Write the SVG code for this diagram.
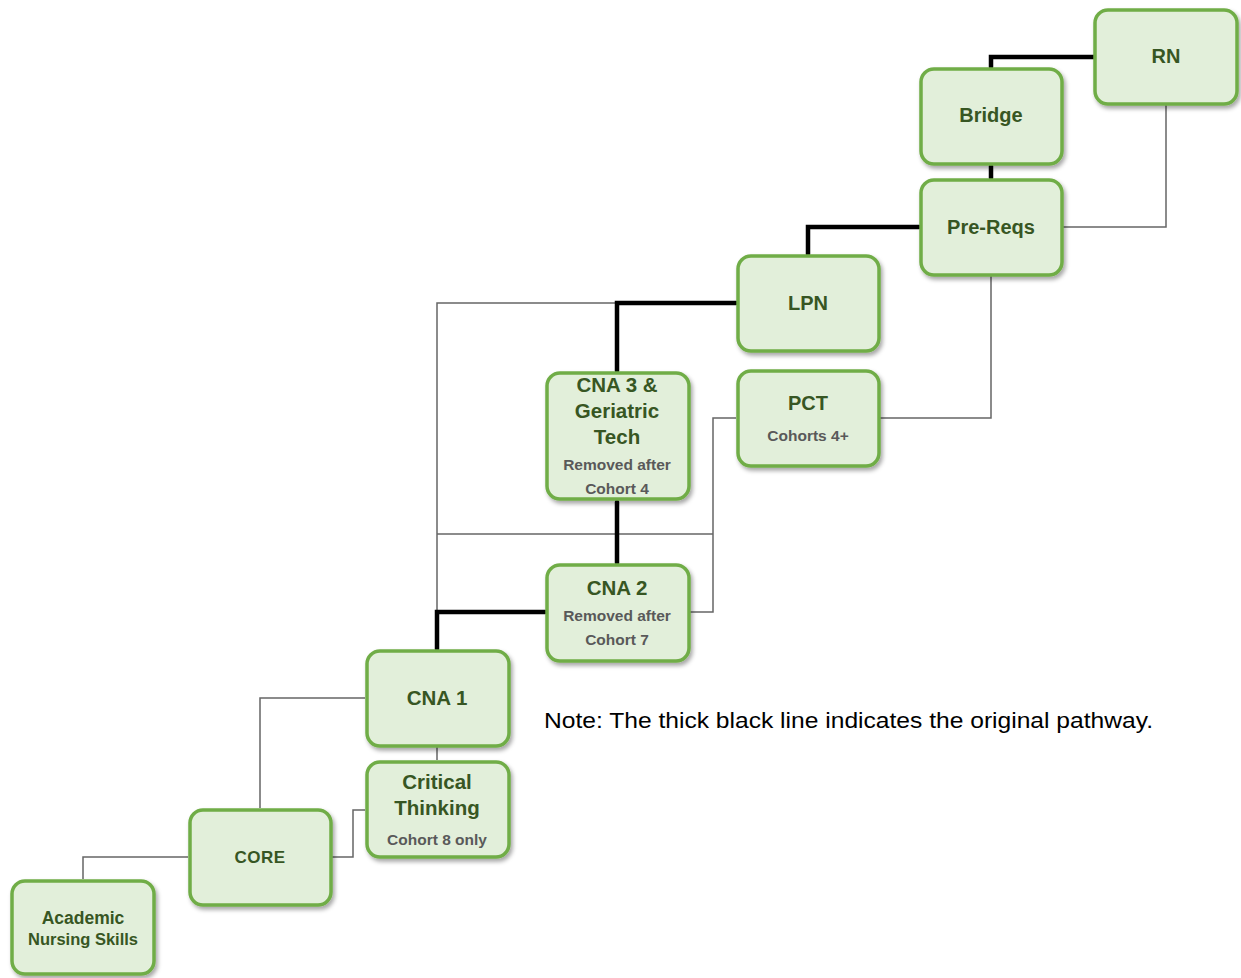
<svg xmlns="http://www.w3.org/2000/svg" width="1241" height="978" viewBox="0 0 1241 978">
<defs>
<filter id="sh" x="-10%" y="-10%" width="130%" height="130%">
<feDropShadow dx="2" dy="3" stdDeviation="2" flood-color="#000" flood-opacity="0.35"/>
</filter>
</defs>
<style>
.box{fill:#e2efda;stroke:#70ad47;stroke-width:3.5;filter:url(#sh)}
.t{font-family:"Liberation Sans",Arial,sans-serif;font-weight:bold;fill:#375623;text-anchor:middle}
.s{font-family:"Liberation Sans",Arial,sans-serif;font-weight:bold;fill:#595959;text-anchor:middle;font-size:15.5px}
.thick{fill:none;stroke:#000;stroke-width:4.5;stroke-linecap:round;stroke-linejoin:miter}
.thin{fill:none;stroke:#666;stroke-width:1.5}
.note{font-family:"Liberation Sans",Arial,sans-serif;font-size:22px;fill:#000}
</style>
<rect width="1241" height="978" fill="#fff"/>
<g id="connectors">
<path class="thin" d="M1166,105 V227 H1063"/>
<path class="thin" d="M991,276 V418 H880"/>
<path class="thin" d="M736,418 H713 V612 H690"/>
<path class="thin" d="M437,649 V303 H617"/>
<path class="thin" d="M437,534 H713"/>
<path class="thin" d="M437,747 V760"/>
<path class="thin" d="M365,698 H260 V808"/>
<path class="thin" d="M332,857 H353 V810 H365"/>
<path class="thin" d="M188,857 H83 V879"/>
<path class="thick" d="M1094,57 H991 V67"/>
<path class="thick" d="M991,166 V178"/>
<path class="thick" d="M919,227 H808 V254"/>
<path class="thick" d="M736,303 H617 V371"/>
<path class="thick" d="M617,502 V563"/>
<path class="thick" d="M545,612 H437 V649"/>
</g>
<g id="rn"><rect class="box" x="1095" y="10" width="142" height="94" rx="13"/><text class="t" x="1166" y="63" font-size="20">RN</text></g>
<g id="bridge"><rect class="box" x="921" y="69" width="141" height="95" rx="13"/><text class="t" x="991" y="122" font-size="20">Bridge</text></g>
<g id="prereqs"><rect class="box" x="921" y="180" width="141" height="95" rx="13"/><text class="t" x="991" y="234" font-size="20">Pre-Reqs</text></g>
<g id="lpn"><rect class="box" x="738" y="256" width="141" height="95" rx="13"/><text class="t" x="808" y="310" font-size="20">LPN</text></g>
<g id="pct"><rect class="box" x="738" y="371" width="141" height="95" rx="13"/><text class="t" x="808" y="410" font-size="20">PCT</text><text class="s" x="808" y="441">Cohorts 4+</text></g>
<g id="cna3"><rect class="box" x="547" y="373" width="142" height="126" rx="13"/><text class="t" x="617" y="392" font-size="20.5">CNA 3 &amp;</text><text class="t" x="617" y="418" font-size="20.5">Geriatric</text><text class="t" x="617" y="444" font-size="20.5">Tech</text><text class="s" x="617" y="470">Removed after</text><text class="s" x="617" y="494">Cohort 4</text></g>
<g id="cna2"><rect class="box" x="547" y="565" width="142" height="96" rx="13"/><text class="t" x="617" y="595" font-size="20.5">CNA 2</text><text class="s" x="617" y="621">Removed after</text><text class="s" x="617" y="645">Cohort 7</text></g>
<g id="cna1"><rect class="box" x="367" y="651" width="142" height="95" rx="13"/><text class="t" x="437" y="705" font-size="20.5">CNA 1</text></g>
<g id="critical"><rect class="box" x="367" y="762" width="142" height="95" rx="13"/><text class="t" x="437" y="789" font-size="20.5">Critical</text><text class="t" x="437" y="815" font-size="20.5">Thinking</text><text class="s" x="437" y="845">Cohort 8 only</text></g>
<g id="core"><rect class="box" x="190" y="810" width="141" height="95" rx="13"/><text class="t" x="260" y="863" font-size="17" letter-spacing="0.5">CORE</text></g>
<g id="academic"><rect class="box" x="12" y="881" width="142" height="93" rx="13"/><text class="t" x="83" y="924" font-size="17.5">Academic</text><text class="t" x="83" y="945" font-size="16.5">Nursing Skills</text></g>
<text class="note" x="544" y="728" textLength="609" lengthAdjust="spacingAndGlyphs">Note: The thick black line indicates the original pathway.</text>
</svg>
